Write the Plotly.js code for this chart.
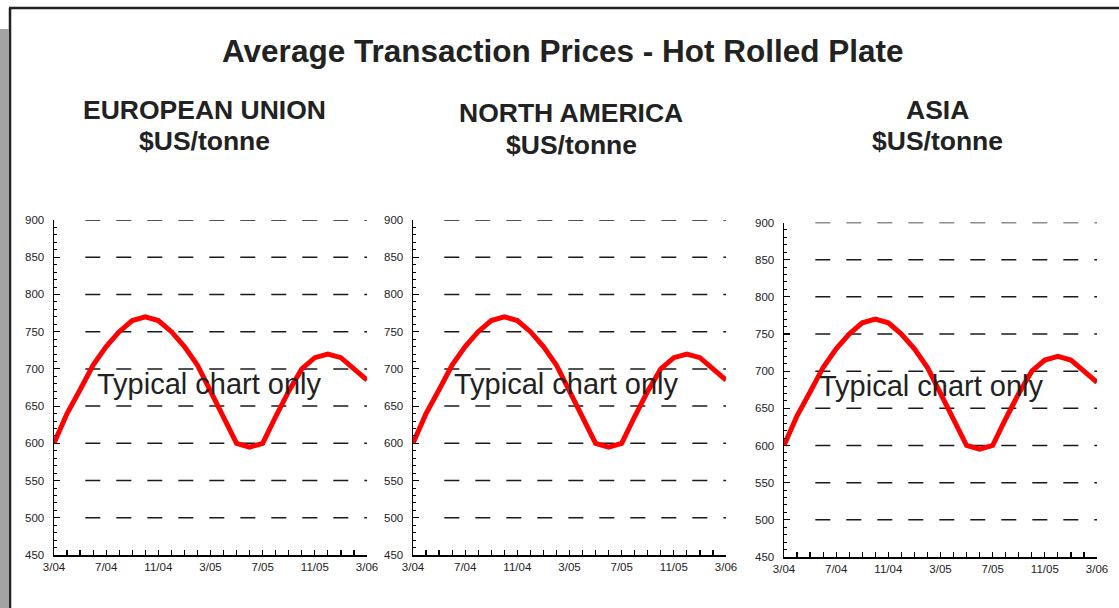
<!DOCTYPE html>
<html>
<head>
<meta charset="utf-8">
<script src="https://cdn.plot.ly/plotly-3.0.1.min.js"></script>
<style>html,body{margin:0;padding:0;background:#fff;}#chart{width:1119px;height:608px;}</style>
</head>
<body>
<div id="chart"></div>
<script>
// ---- data ----
const months = ["3/04","4/04","5/04","6/04","7/04","8/04","9/04","10/04","11/04","12/04","1/05","2/05",
                "3/05","4/05","5/05","6/05","7/05","8/05","9/05","10/05","11/05","12/05","1/06","2/06","3/06"];
const euPrices   = [600,640,672,705,730,750,765,770,765,750,730,705,670,635,600,595,600,636,670,700,715,720,715,700,685];
const naPrices   = [600,640,672,705,730,750,765,770,765,750,730,705,670,635,600,595,600,636,670,700,715,720,715,700,685];
const asiaPrices = [600,640,672,705,730,750,765,770,765,750,730,705,670,635,600,595,600,636,670,700,715,720,715,700,685];
const tickLabels = ["3/04","7/04","11/04","3/05","7/05","11/05","3/06"];
const yTicks = [450,500,550,600,650,700,750,800,850,900];
const gridValues = [500,550,600,650,700,750,800,850,900];
const regions = ["EUROPEAN UNION","NORTH AMERICA","ASIA"];
const unitLabel = "$US/tonne";
const mainTitle = "Average Transaction Prices - Hot Rolled Plate";
const watermark = "Typical chart only";

// ---- layout helpers ----
const W = 1119, H = 608;
const px = v => v / W;
const py = v => 1 - v / H;
const idx = months.map((m, i) => i);
const tickIdx = tickLabels.map(t => months.indexOf(t));

const panels = [
  {xd:[px(54), px(367)],  yd:[py(555), py(220)],   vals: euPrices,   title: regions[0], t1: 109.5, t2: 141, cx: 204, wx: 11.9},
  {xd:[px(413), px(726)], yd:[py(555), py(220)],   vals: naPrices,   title: regions[1], t1: 112.5, t2: 145, cx: 571, wx: 11.8},
  {xd:[px(784), px(1097)],yd:[py(557), py(222.5)], vals: asiaPrices, title: regions[2], t1: 109.5, t2: 141, cx: 937, wx: 11.3}
];

const FONT = "Liberation Sans, Arial, sans-serif";
const data = [];
const layout = {
  width: W, height: H,
  margin: {l:0, r:0, t:0, b:0},
  paper_bgcolor: "#fff", plot_bgcolor: "rgba(0,0,0,0)",
  showlegend: false,
  font: {family: FONT, color: "#222"},
  shapes: [], annotations: []
};

panels.forEach((p, k) => {
  const n = k === 0 ? "" : String(k + 1);
  const xa = "xaxis" + n, ya = "yaxis" + n;
  const xr = "x" + n, yr = "y" + n;
  data.push({
    x: idx, y: p.vals, xaxis: xr, yaxis: yr,
    type: "scatter", mode: "lines",
    line: {color: "#ff0000", width: 5},
    hoverinfo: "skip"
  });
  layout[xa] = {
    domain: p.xd, anchor: yr, range: [0, months.length - 1],
    showgrid: false, zeroline: false,
    showline: true, linecolor: "#000", linewidth: 1.5,
    tickmode: "array", tickvals: tickIdx, ticktext: tickLabels,
    ticks: "inside", ticklen: 5, tickwidth: 1.2, tickcolor: "#000",
    ticklabelstandoff: 1,
    tickfont: {family: FONT, size: 11.5, color: "#222"},
    minor: {tickmode: "linear", tick0: 0, dtick: 1, ticks: "inside", ticklen: 5, tickwidth: 1.2, tickcolor: "#000", showgrid: false},
    fixedrange: true
  };
  layout[ya] = {
    domain: p.yd, anchor: xr, range: [450, 900],
    showgrid: false, zeroline: false,
    showline: true, linecolor: "#000", linewidth: 1.5,
    tickmode: "array", tickvals: yTicks,
    ticks: "inside", ticklen: 6, tickwidth: 1.2, tickcolor: "#000",
    ticklabelstandoff: 6,
    tickfont: {family: FONT, size: 11.5, color: "#222"},
    minor: {tickmode: "linear", tick0: 450, dtick: 10, ticks: "inside", ticklen: 3, tickwidth: 1, tickcolor: "#000", showgrid: false},
    fixedrange: true
  };
  gridValues.forEach(g => {
    layout.shapes.push({
      type: "line", xref: xr + " domain", yref: yr,
      x0: 0.1, x1: 1, y0: g, y1: g,
      line: {color: "#1a1a1a", width: 1.5, dash: "15px,16px"},
      layer: "below"
    });
  });
  layout.annotations.push({
    xref: "paper", yref: "paper", x: px(p.cx), y: py(p.t1),
    text: "<b>" + p.title + "</b>", showarrow: false,
    xanchor: "center", yanchor: "middle",
    font: {family: FONT, size: 26.5, color: "#222"}
  });
  layout.annotations.push({
    xref: "paper", yref: "paper", x: px(p.cx), y: py(p.t2),
    text: "<b>" + unitLabel + "</b>", showarrow: false,
    xanchor: "center", yanchor: "middle",
    font: {family: FONT, size: 26.5, color: "#222"}
  });
  layout.annotations.push({
    xref: xr, yref: yr, x: p.wx, y: 680,
    text: watermark, showarrow: false,
    xanchor: "center", yanchor: "middle",
    font: {family: FONT, size: 29, color: "#222"}
  });
});

layout.annotations.push({
  xref: "paper", yref: "paper", x: px(562.5), y: py(51.5),
  text: "<b>" + mainTitle + "</b>", showarrow: false,
  xanchor: "center", yanchor: "middle",
  font: {family: FONT, size: 31.5, color: "#222"}
});

// frame: gray strip and black border
layout.shapes.push({type: "rect", xref: "paper", yref: "paper", x0: 0, x1: px(8.5), y0: 0, y1: py(29),
  line: {width: 0}, fillcolor: "#a3a3a3", layer: "below"});
layout.shapes.push({type: "line", xref: "paper", yref: "paper", x0: px(9), x1: 1, y0: py(8), y1: py(8),
  line: {color: "#222", width: 2.5}});
layout.shapes.push({type: "line", xref: "paper", yref: "paper", x0: px(10), x1: px(10), y0: py(8), y1: 0,
  line: {color: "#222", width: 2.5}});

Plotly.newPlot("chart", data, layout, {displayModeBar: false, staticPlot: true});
</script>
</body>
</html>
